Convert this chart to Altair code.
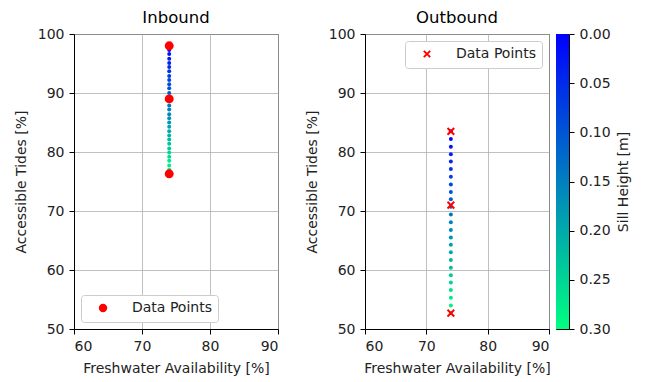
import altair as alt
import pandas as pd

# ---- data ----
in_sill = [0.00, 0.01, 0.02, 0.03, 0.04, 0.05, 0.06, 0.07, 0.08, 0.09, 0.10,
           0.11, 0.12, 0.13, 0.14, 0.15, 0.16, 0.17, 0.18, 0.19, 0.20,
           0.21, 0.22, 0.23, 0.24, 0.25, 0.26, 0.27, 0.28, 0.29, 0.30]
in_tides = [98.0, 97.3, 96.6, 95.8, 95.1, 94.4, 93.7, 92.9, 92.2, 91.5, 90.8,
            90.0, 89.3, 88.6, 87.9, 87.2, 86.4, 85.7, 85.0, 84.3, 83.5,
            82.8, 82.1, 81.4, 80.6, 79.9, 79.2, 78.5, 77.7, 77.0, 76.3]
in_fresh = [74.0] * len(in_sill)

out_sill = [0.0, 0.0125, 0.025, 0.0375, 0.05, 0.0625, 0.075, 0.0875, 0.1, 0.1125,
            0.125, 0.1375, 0.15, 0.1625, 0.175, 0.1875, 0.2, 0.2125, 0.225, 0.2375,
            0.25, 0.2625, 0.275, 0.2875, 0.3]
out_tides = [83.5, 82.2, 80.9, 79.6, 78.4, 77.1, 75.8, 74.5, 73.2, 72.0,
             70.7, 69.4, 68.1, 66.8, 65.5, 64.3, 63.0, 61.7, 60.4, 59.1,
             57.9, 56.6, 55.3, 54.0, 52.7]
out_fresh = [74.0] * len(out_sill)

in_pts_fresh = [74.0, 74.0, 74.0]
in_pts_tides = [98.0, 89.0, 76.3]
out_pts_fresh = [74.0, 74.0, 74.0]
out_pts_tides = [83.5, 71.0, 52.7]

x_ticks = [60, 70, 80, 90]
y_ticks = [50, 60, 70, 80, 90, 100]
cb_ticks = [0.00, 0.05, 0.10, 0.15, 0.20, 0.25, 0.30]
cb_range = [0.0, 0.3]
cb_colors = ["#0000ff", "#00ff80"]

FONT = "DejaVu Sans"
FS = 14
H = 295
X_SHAPE = "M-1,-1L1,1M-1,1L1,-1"


def panel(title, fresh, tides, sill, pfresh, ptides, shape, filled, orient, w,
          loff):
    line_df = pd.DataFrame({"fresh": fresh, "tides": tides, "sill": sill})
    pts_df = pd.DataFrame({"fresh": pfresh, "tides": ptides,
                           "label": ["Data Points"] * len(pfresh)})
    xenc = alt.X("fresh:Q",
                 scale=alt.Scale(domain=[60, 90], nice=False, zero=False),
                 axis=alt.Axis(values=x_ticks, title="Freshwater Availability [%]",
                               labelPadding=5, titlePadding=8))
    yenc = alt.Y("tides:Q",
                 scale=alt.Scale(domain=[50, 100], nice=False, zero=False),
                 axis=alt.Axis(values=y_ticks, title="Accessible Tides [%]",
                               labelPadding=5, titlePadding=9))
    dots = alt.Chart(line_df).mark_circle(size=16, opacity=1).encode(
        x=xenc, y=yenc,
        color=alt.Color("sill:Q",
                        scale=alt.Scale(domain=cb_range, range=cb_colors,
                                        interpolate="rgb"),
                        legend=None))
    common = dict(title=None, orient=orient, offset=loff,
                  fillColor="white", strokeColor="#cccccc",
                  cornerRadius=3, padding=6, labelFontSize=FS,
                  labelFont=FONT, labelColor="#222222", symbolOffset=9,
                  labelOffset=22, symbolOpacity=1)
    if filled:
        pm = alt.Chart(pts_df).mark_point(filled=True, size=80, color="red",
                                          opacity=1)
        leg = alt.Legend(symbolSize=70, symbolFillColor="red",
                         symbolStrokeColor="red", **common)
    else:
        pm = alt.Chart(pts_df).mark_point(filled=False, size=45, color="red",
                                          strokeWidth=2, opacity=1)
        leg = alt.Legend(symbolSize=40, symbolFillColor="transparent",
                         symbolStrokeColor="red", symbolStrokeWidth=2, **common)
    pts = pm.encode(
        x="fresh:Q", y="tides:Q",
        shape=alt.Shape("label:N",
                        scale=alt.Scale(domain=["Data Points"], range=[shape]),
                        legend=leg))
    return alt.layer(dots, pts).properties(
        width=w, height=H,
        title=alt.TitleParams(title, fontSize=16.5, font=FONT,
                              fontWeight="normal", offset=1))


inb = panel("Inbound", in_fresh, in_tides, in_sill, in_pts_fresh, in_pts_tides,
            "circle", True, "bottom-left", 204, 7)
outb = panel("Outbound", out_fresh, out_tides, out_sill, out_pts_fresh,
             out_pts_tides, X_SHAPE, False, "top-right", 184, 7)

cb_df = pd.DataFrame({"lo": [cb_range[0]], "hi": [cb_range[1]]})
cb = alt.Chart(cb_df).mark_rect(
    color=alt.LinearGradient(
        gradient="linear",
        stops=[alt.GradientStop(color=cb_colors[0], offset=0),
               alt.GradientStop(color=cb_colors[1], offset=1)],
        x1=0, x2=0, y1=0, y2=1)
).encode(
    x=alt.value(0), x2=alt.value(13),
    y=alt.Y("lo:Q", scale=alt.Scale(domain=cb_range, reverse=True, nice=False,
                                     zero=False),
            axis=alt.Axis(orient="right", values=cb_ticks, format=".2f",
                          title="Sill Height [m]", titleAngle=270,
                          titleBaseline="top", titlePadding=6,
                          labelPadding=5, grid=False, domain=False)),
    y2="hi:Q",
).properties(width=13, height=H,
             title=alt.TitleParams(" ", fontSize=16.5, font=FONT, offset=1))

right = alt.hconcat(outb, cb, spacing=7, bounds="flush").resolve_scale(
    y="independent", color="independent", shape="independent")
chart = alt.hconcat(inb, right, spacing=87, bounds="flush").resolve_scale(
    x="independent", y="independent", color="independent",
    shape="independent").configure(
    font=FONT, padding={"left": 5, "top": 1, "right": 5, "bottom": 0}
).configure_view(
    stroke="black", strokeWidth=1
).configure_axis(
    labelFont=FONT, titleFont=FONT, labelFontSize=FS, titleFontSize=FS,
    labelColor="#222222", titleColor="#222222", titleFontWeight="normal",
    grid=True, gridColor="#b0b0b0", gridWidth=0.8,
    domainColor="black", tickColor="black", tickSize=5
)

chart.save("out.html", embed_options={"renderer": "svg", "actions": False})
